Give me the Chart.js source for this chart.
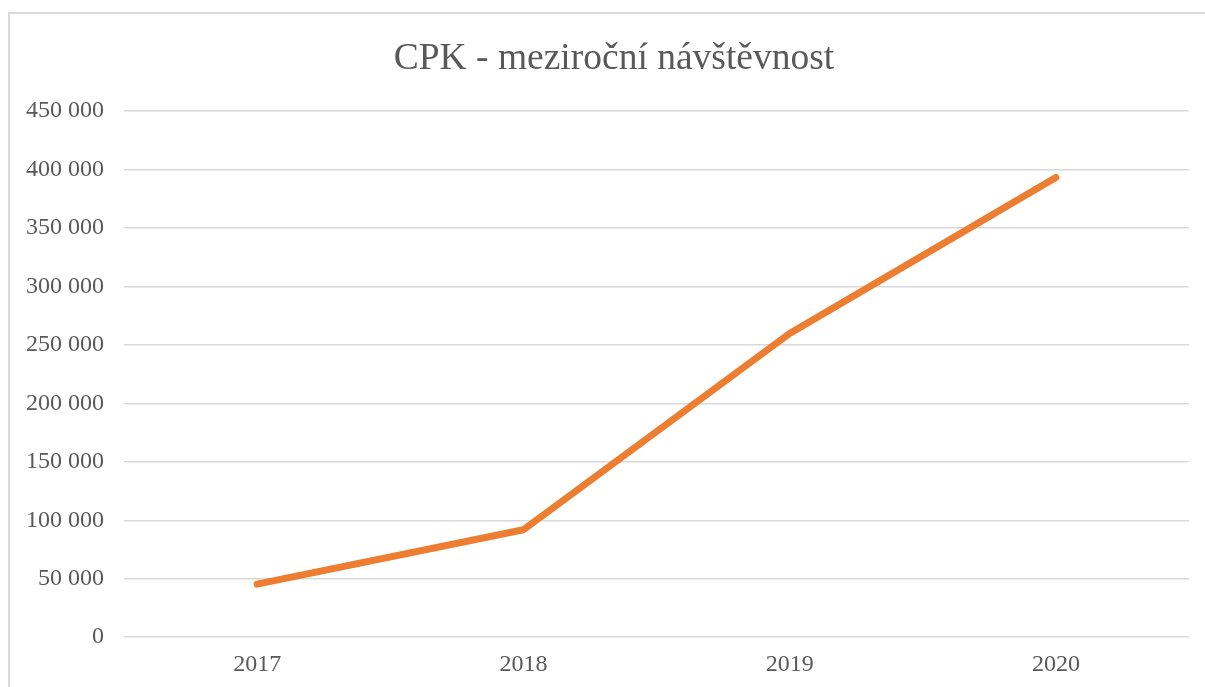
<!DOCTYPE html>
<html>
<head>
<meta charset="utf-8">
<script src="https://cdn.jsdelivr.net/npm/chart.js@4/dist/chart.umd.min.js"></script>
<style>
  html, body { margin: 0; padding: 0; background: #fff; }
  #wrap { position: relative; width: 1205px; height: 687px; overflow: hidden; }
  #frame { position: absolute; left: 8px; top: 12px; width: 1220px; height: 700px;
           border: 2px solid #d9d9d9; pointer-events: none; }
</style>
</head>
<body>
<div id="wrap">
  <canvas id="graf" width="1205" height="692"></canvas>
  <div id="frame"></div>
</div>
<script>
const roky = ["2017", "2018", "2019", "2020"];
const navstevnost = [45400, 91900, 259700, 393200];
const osaMax = 450000;
const osaKrok = 50000;

const seda = "#595959";
const pismo = "'Liberation Serif', 'Times New Roman', serif";

// 450000 -> "450 000"
const formatCislo = v => String(v).replace(/\B(?=(\d{3})+(?!\d))/g, " ");

// nadpis je v originale vycentrovany na ramecek, ne na oblast grafu
const posunNadpisu = {
  id: "posunNadpisu",
  afterLayout(chart) {
    if (chart.titleBlock) {
      chart.titleBlock.left += 33;
    }
  }
};

const ctx = document.getElementById("graf").getContext("2d");
const graf = new Chart(ctx, {
  type: "line",
  data: {
    labels: roky,
    datasets: [{
      label: "Návštěvnost",
      data: navstevnost,
      borderColor: "#ED7D31",
      backgroundColor: "#ED7D31",
      borderWidth: 7,
      borderCapStyle: "round",
      borderJoinStyle: "round",
      pointRadius: 0,
      tension: 0,
      fill: false
    }]
  },
  options: {
    responsive: false,
    animation: false,
    layout: { padding: { left: 6, right: 16, top: 0, bottom: 0 } },
    plugins: {
      legend: { display: false },
      tooltip: { enabled: false },
      title: {
        display: true,
        text: "CPK - meziroční návštěvnost",
        color: seda,
        font: { family: pismo, size: 37.5, weight: "normal" },
        padding: { top: 37, bottom: 29 }
      }
    },
    scales: {
      x: {
        offset: true,
        grid: { display: false, drawTicks: false },
        border: { display: false },
        ticks: { color: seda, padding: 13, font: { family: pismo, size: 24 } }
      },
      y: {
        min: 0,
        max: osaMax,
        grid: { color: "#d9d9d9", lineWidth: 1.5, drawTicks: false },
        border: { display: false },
        ticks: {
          stepSize: osaKrok,
          color: seda,
          padding: 20,
          font: { family: pismo, size: 24 },
          callback: v => formatCislo(v)
        }
      }
    }
  },
  plugins: [posunNadpisu]
});
</script>
</body>
</html>
